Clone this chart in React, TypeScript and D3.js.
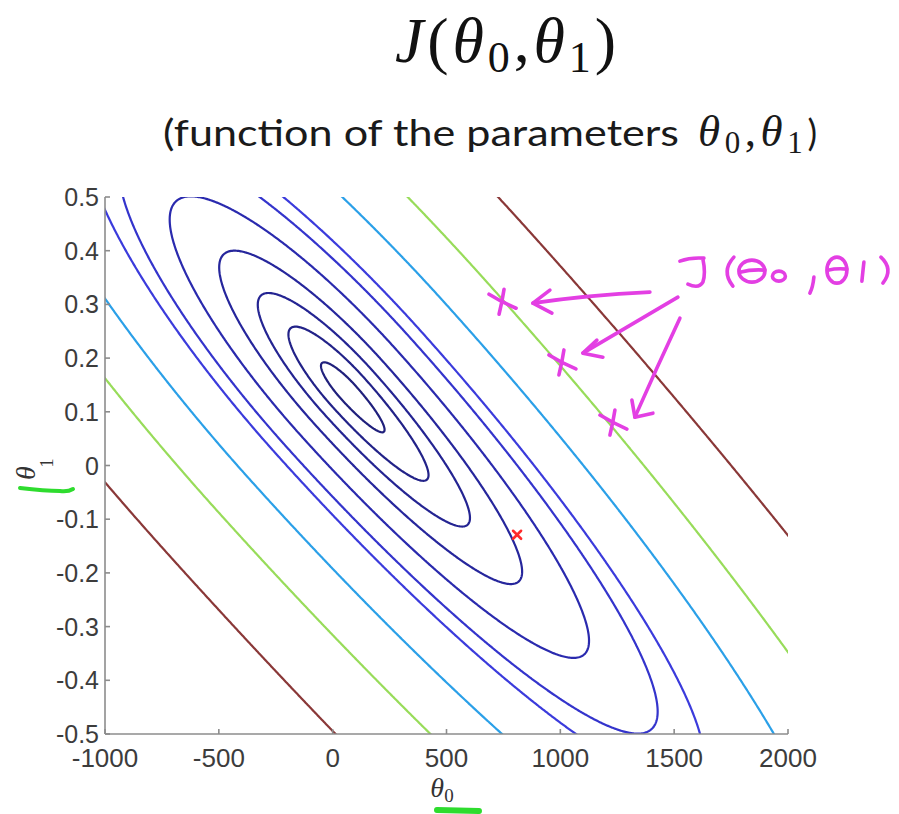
import React, { useMemo } from "react";
import * as d3 from "d3";

// ---------- data ----------
const theta0Domain = [-1000, 2000];
const theta1Domain = [-0.5, 0.5];
const theta0Ticks = [-1000, -500, 0, 500, 1000, 1500, 2000];
const theta0TickLabels = ["-1000", "-500", "0", "500", "1000", "1500", "2000"];
const theta1Ticks = [0.5, 0.4, 0.3, 0.2, 0.1, 0, -0.1, -0.2, -0.3, -0.4, -0.5];
const theta1TickLabels = ["0.5", "0.4", "0.3", "0.2", "0.1", "0", "-0.1", "-0.2", "-0.3", "-0.4", "-0.5"];

// cost surface J(θ0, θ1): elongated bowl around the minimum
const costCenter = [67.4, 0.1369];
const majorAxisCoef = [0.1523, -399];
const minorAxisCoef = [0.1692, 359.3];
const majorStretch = [4.0, 5.5]; // towards upper-left / lower-right
const contourLevels = [95, 460, 1055, 2150, 4120, 6800, 9000, 17300, 31240, 58680];
const contourColors = [
  "#20207c", "#222288", "#242492", "#26269c", "#2a2aae",
  "#3434cc", "#3b3bdc", "#2ba0e8", "#98dc5a", "#8a3838",
];

const markerPoint = [810, -0.129];
const annotatedPoints = [
  [744, 0.304],
  [1007, 0.191],
  [1231, 0.079],
];
const annotationAnchor = [1512, 0.388];

function cost(t0: number, t1: number) {
  const d0 = t0 - costCenter[0];
  const d1 = t1 - costCenter[1];
  const u = majorAxisCoef[0] * d0 + majorAxisCoef[1] * d1;
  const v = minorAxisCoef[0] * d0 + minorAxisCoef[1] * d1;
  const a = u < 0 ? majorStretch[0] : majorStretch[1];
  return (u / a) ** 2 + v ** 2;
}

const W = 899;
const H = 814;
const plot = { left: 105, right: 788, top: 197, bottom: 734 };

export default function App() {
  const x = d3.scaleLinear().domain(theta0Domain).range([plot.left, plot.right]);
  const y = d3.scaleLinear().domain(theta1Domain).range([plot.bottom, plot.top]);

  const paths = useMemo(() => {
    const t0min = -1300, t0max = 2300, t1min = -0.65, t1max = 0.65;
    const nx = 760, ny = 540;
    const s0 = (t0max - t0min) / (nx - 1);
    const s1 = (t1max - t1min) / (ny - 1);
    const values = new Float64Array(nx * ny);
    for (let j = 0; j < ny; j++) {
      for (let i = 0; i < nx; i++) {
        values[j * nx + i] = cost(t0min + i * s0, t1max - j * s1);
      }
    }
    const gen = d3.contours().size([nx, ny]).thresholds(contourLevels);
    const proj = d3.geoTransform({
      point: function (this: any, gx: number, gy: number) {
        this.stream.point(x(t0min + (gx - 0.5) * s0), y(t1max - (gy - 0.5) * s1));
      },
    });
    const path = d3.geoPath(proj);
    return gen(Array.from(values)).map((c, k) => ({ d: path(c as any) || "", color: contourColors[k] }));
  }, []);

  const [ax, ay] = [x(annotationAnchor[0]), y(annotationAnchor[1])];
  const mag = "#e33fe3";

  return (
    <div style={{ position: "absolute", left: 0, top: 0 }}>
      <svg width={W} height={H} style={{ display: "block", background: "#fff" }}>
        <defs>
          <clipPath id="plotClip">
            <rect x={plot.left} y={plot.top} width={plot.right - plot.left} height={plot.bottom - plot.top} />
          </clipPath>
        </defs>

        {/* title */}
        <text x={395} y={62} fontFamily="Liberation Serif, DejaVu Serif, serif" fontSize={64} fill="#111" textLength={221} lengthAdjust="spacing">
          <tspan fontStyle="italic">J</tspan>
          <tspan>(</tspan>
          <tspan fontStyle="italic">θ</tspan>
          <tspan fontSize={44} dy={10}>0</tspan>
          <tspan dy={-10}>,</tspan>
          <tspan fontStyle="italic">θ</tspan>
          <tspan fontSize={44} dy={10}>1</tspan>
          <tspan dy={-10}>)</tspan>
        </text>

        {/* subtitle */}
        <text x={163} y={146} fontFamily="Lato, Open Sans, sans-serif" fontSize={36} fill="#1a1a1a" textLength={516} lengthAdjust="spacingAndGlyphs">
          (function of the parameters
        </text>
        <text x={698} y={146} fontFamily="Liberation Serif, DejaVu Serif, serif" fontSize={45} fill="#1a1a1a" textLength={119} lengthAdjust="spacing">
          <tspan fontStyle="italic">θ</tspan>
          <tspan fontSize={31} dy={7}>0</tspan>
          <tspan dy={-7}>,</tspan>
          <tspan fontStyle="italic">θ</tspan>
          <tspan fontSize={31} dy={7}>1</tspan>
          <tspan dy={-7} fontFamily="Lato, sans-serif" fontSize={36}>)</tspan>
        </text>

        {/* contours */}
        <g clipPath="url(#plotClip)">
          {paths.map((p, k) => (
            <path key={k} d={p.d} fill="none" stroke={p.color} strokeWidth={2.2} strokeLinejoin="round" />
          ))}
        </g>

        {/* axes */}
        <g stroke="#8c8c8c" strokeWidth={1.6} fill="none">
          <line x1={plot.left} y1={plot.top} x2={plot.left} y2={plot.bottom} />
          <line x1={plot.left} y1={plot.bottom} x2={plot.right} y2={plot.bottom} />
          {theta1Ticks.map((t, i) => (
            <line key={"yt" + i} x1={plot.left} x2={plot.left + 5} y1={y(t)} y2={y(t)} />
          ))}
          {theta0Ticks.map((t, i) => (
            <line key={"xt" + i} x1={x(t)} x2={x(t)} y1={plot.bottom} y2={plot.bottom - 5} />
          ))}
        </g>
        <g fontFamily="Liberation Sans, Arial, sans-serif" fill="#3c3c3c">
          {theta1Ticks.map((t, i) => (
            <text key={"yl" + i} x={99} y={y(t)} dy="0.36em" textAnchor="end" fontSize={25}>
              {theta1TickLabels[i]}
            </text>
          ))}
          {theta0Ticks.map((t, i) => (
            <text key={"xl" + i} x={x(t)} y={758} dy="0.36em" textAnchor="middle" fontSize={26}>
              {theta0TickLabels[i]}
            </text>
          ))}
        </g>

        {/* axis labels */}
        <text x={442} y={797} fontFamily="Liberation Serif, serif" fontSize={28} fill="#333" textAnchor="middle">
          <tspan fontStyle="italic">θ</tspan>
          <tspan fontSize={19} dy={5}>0</tspan>
        </text>
        <g fontFamily="Liberation Serif, serif" fill="#333">
          <text transform="translate(35,473) rotate(-90)" fontSize={28} fontStyle="italic" textAnchor="middle">θ</text>
          <text transform="translate(53,463) rotate(-90)" fontSize={19} textAnchor="middle">1</text>
        </g>
        <path d="M20,488 Q45,491 60,491 Q68,492 73,489" stroke="#2edc2e" strokeWidth={4} fill="none" strokeLinecap="round" />
        <path d="M437,810 L479,811" stroke="#2edc2e" strokeWidth={6} fill="none" strokeLinecap="round" />

        {/* red marker */}
        <g stroke="#ff2a2a" strokeWidth={2.6} strokeLinecap="round">
          <line x1={x(markerPoint[0]) - 4} y1={y(markerPoint[1]) - 4} x2={x(markerPoint[0]) + 4} y2={y(markerPoint[1]) + 4} />
          <line x1={x(markerPoint[0]) - 4} y1={y(markerPoint[1]) + 4} x2={x(markerPoint[0]) + 4} y2={y(markerPoint[1]) - 4} />
        </g>

        {/* handwritten annotations */}
        <g stroke={mag} strokeWidth={3.6} fill="none" strokeLinecap="round" strokeLinejoin="round">
          {annotatedPoints.map((p, i) => {
            const cx = x(p[0]);
            const cy = y(p[1]);
            return (
              <g key={"x" + i}>
                <path d={`M${cx - 13},${cy - 8} Q${cx},${cy} ${cx + 14},${cy + 6}`} />
                <path d={`M${cx + 2},${cy - 13} Q${cx},${cy} ${cx - 3},${cy + 12}`} />
              </g>
            );
          })}
          <g transform={`translate(${ax},${ay})`}>
            {/* J */}
            <path d="M3,4 Q14,0 27,1 M26,2 Q29,16 26,25 Q22,32 11,27" />
            {/* ( */}
            <path d="M57,0 Q44,14 56,29" />
            {/* θ */}
            <ellipse cx={75} cy={14} rx={13} ry={11} />
            <path d="M63,15 Q75,12 88,13" />
            {/* o */}
            <ellipse cx={102} cy={19} rx={6.5} ry={5} />
            {/* , */}
            <path d="M137,20 Q136,30 133,36" />
            {/* θ */}
            <ellipse cx={160} cy={13} rx={10} ry={13} />
            <path d="M151,13 Q160,11 170,12" />
            {/* 1 */}
            <path d="M187,5 Q186,14 185,24" />
            {/* ) */}
            <path d="M204,0 Q217,12 206,26" />
            {/* arrows */}
            <path d="M-27,35 Q-90,38 -144,46" />
            <path d="M-127,33 L-144,46 L-125,56" />
            <path d="M1,40 Q-50,70 -94,96" />
            <path d="M-80,83 L-94,96 L-74,100" />
            <path d="M3,61 Q-20,110 -42,160" />
            <path d="M-45,143 L-42,160 L-24,156" />
          </g>
        </g>
      </svg>
    </div>
  );
}
